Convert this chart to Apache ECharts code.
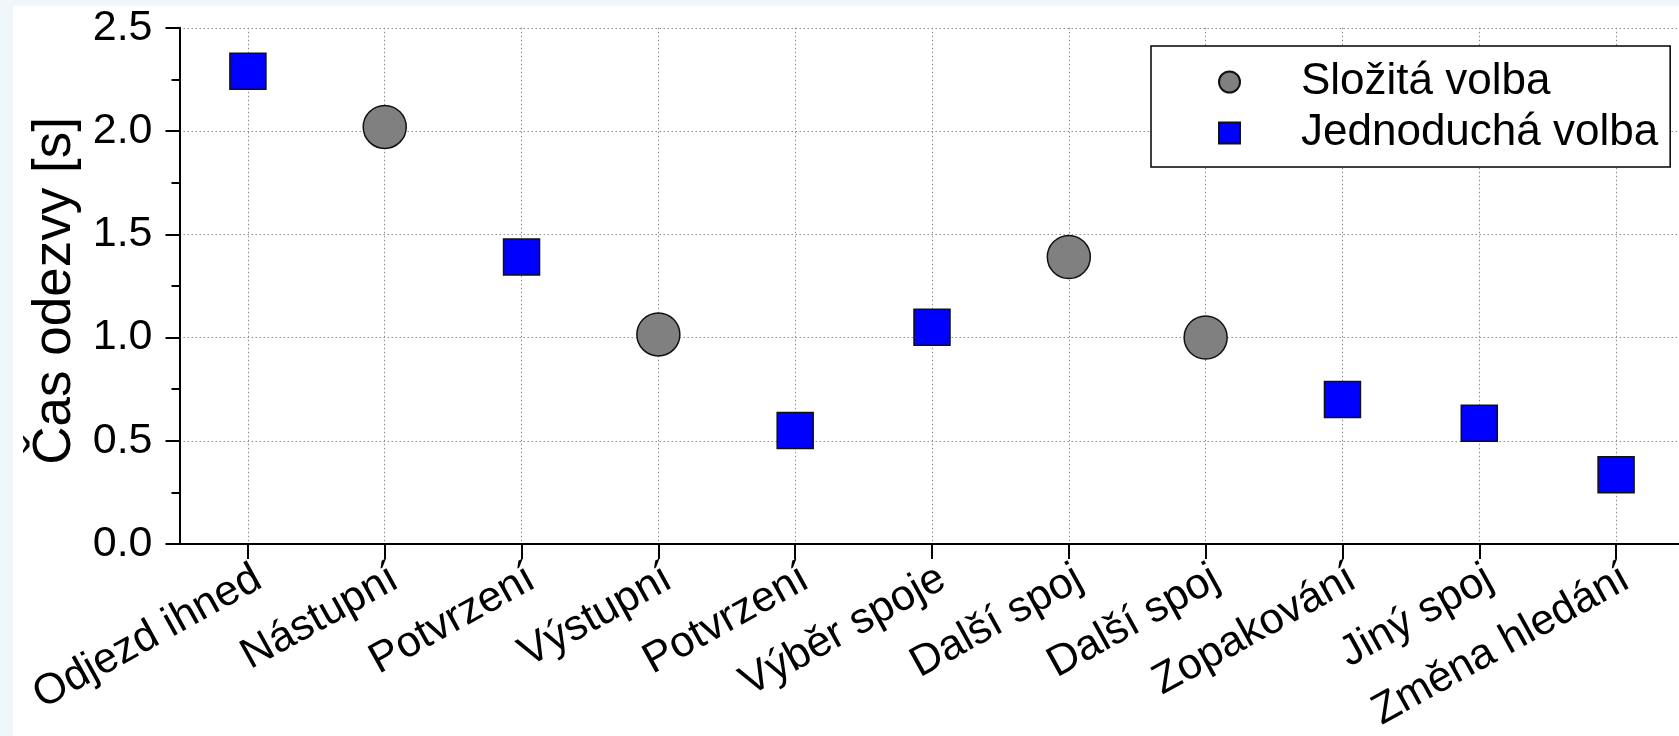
<!DOCTYPE html>
<html>
<head>
<meta charset="utf-8">
<script src="https://cdn.jsdelivr.net/npm/echarts@6/dist/echarts.min.js"></script>
<style>
html,body{margin:0;padding:0;background:#fff;}
#chart{width:1679px;height:736px;}
</style>
</head>
<body>
<div id="chart"></div>
<script>
const categories = ['Odjezd ihned','Nástupní','Potvrzení','Výstupní','Potvrzení','Výběr spoje','Další spoj','Další spoj','Zopakování','Jiný spoj','Změna hledání'];
const slozitaValues = ['-', 2.02, '-', 1.015, '-', '-', 1.39, 1.0, '-', '-', '-'];
const jednoduchaValues = [2.29, '-', 1.39, '-', 0.55, 1.05, '-', '-', 0.70, 0.585, 0.335];
const yTicks = [0, 0.5, 1.0, 1.5, 2.0, 2.5];
const seriesNames = ['Složitá volba', 'Jednoduchá volba'];
const yAxisTitle = 'Čas odezvy [s]';

const FONT = '"Liberation Sans", Arial, sans-serif';
const chart = echarts.init(document.getElementById('chart'));
const gridLine = {show: true, lineStyle: {color: '#8c8c8c', width: 1, type: [1.5, 2.5]}};

chart.setOption({
  backgroundColor: '#ffffff',
  animation: false,
  graphic: [
    {type: 'rect', shape: {x: 0, y: 0, width: 13, height: 736}, style: {fill: '#eff7fb'}, silent: true, z: -10},
    {type: 'rect', shape: {x: 0, y: 0, width: 1679, height: 6}, style: {fill: '#eff7fb'}, silent: true, z: -10}
  ],
  textStyle: {fontFamily: FONT, color: '#000'},
  grid: {left: 179.5, top: 27.8, right: -5.5, bottom: 192, containLabel: false, outerBoundsMode: 'none'},
  legend: {
    orient: 'vertical',
    left: 1151, top: 46,
    data: [
      {name: seriesNames[0], icon: 'circle'},
      {name: seriesNames[1], icon: 'path://M0,0L10,0L10,10L0,10Z'}
    ],
    padding: [14, 12, 12, 67],
    itemWidth: 21, itemHeight: 21, itemGap: 7,
    symbolKeepAspect: true,
    backgroundColor: '#ffffff',
    borderColor: '#000', borderWidth: 1.5, borderRadius: 0,
    textStyle: {fontSize: 44, fontFamily: FONT, color: '#000', lineHeight: 44, padding: [0, 0, 0, 56]}
  },
  xAxis: {
    type: 'category',
    data: categories,
    boundaryGap: true,
    axisLine: {show: true, lineStyle: {color: '#000', width: 2}},
    axisTick: {show: true, alignWithLabel: true, length: 15, lineStyle: {color: '#000', width: 2}},
    axisLabel: {interval: 0, rotate: 29, fontSize: 43, fontFamily: FONT, color: '#000', margin: 13, verticalAlign: 'top'},
    splitLine: Object.assign({alignWithLabel: true, interval: 0}, gridLine)
  },
  yAxis: {
    type: 'value',
    min: yTicks[0], max: yTicks[yTicks.length - 1], interval: 0.5,
    name: yAxisTitle,
    nameLocation: 'middle',
    nameGap: 95,
    nameTextStyle: {fontSize: 53, fontFamily: FONT, color: '#000', padding: [0, 10, 0, 0]},
    axisLine: {show: true, lineStyle: {color: '#000', width: 2}},
    axisTick: {show: true, length: 14, lineStyle: {color: '#000', width: 2}},
    minorTick: {show: true, splitNumber: 2, length: 8, lineStyle: {color: '#000', width: 2}},
    axisLabel: {fontSize: 43, fontFamily: FONT, color: '#000', margin: 27,
      formatter: v => v.toFixed(1)},
    splitLine: gridLine
  },
  series: [
    {
      name: seriesNames[0], type: 'scatter', data: slozitaValues,
      symbol: 'circle', symbolSize: 43,
      itemStyle: {color: '#808080', borderColor: '#111', borderWidth: 1.5, opacity: 1}
    },
    {
      name: seriesNames[1], type: 'scatter', data: jednoduchaValues,
      symbol: 'rect', symbolSize: 36,
      itemStyle: {color: '#0000ff', borderColor: '#111', borderWidth: 1.5, opacity: 1}
    }
  ]
});
</script>
</body>
</html>
